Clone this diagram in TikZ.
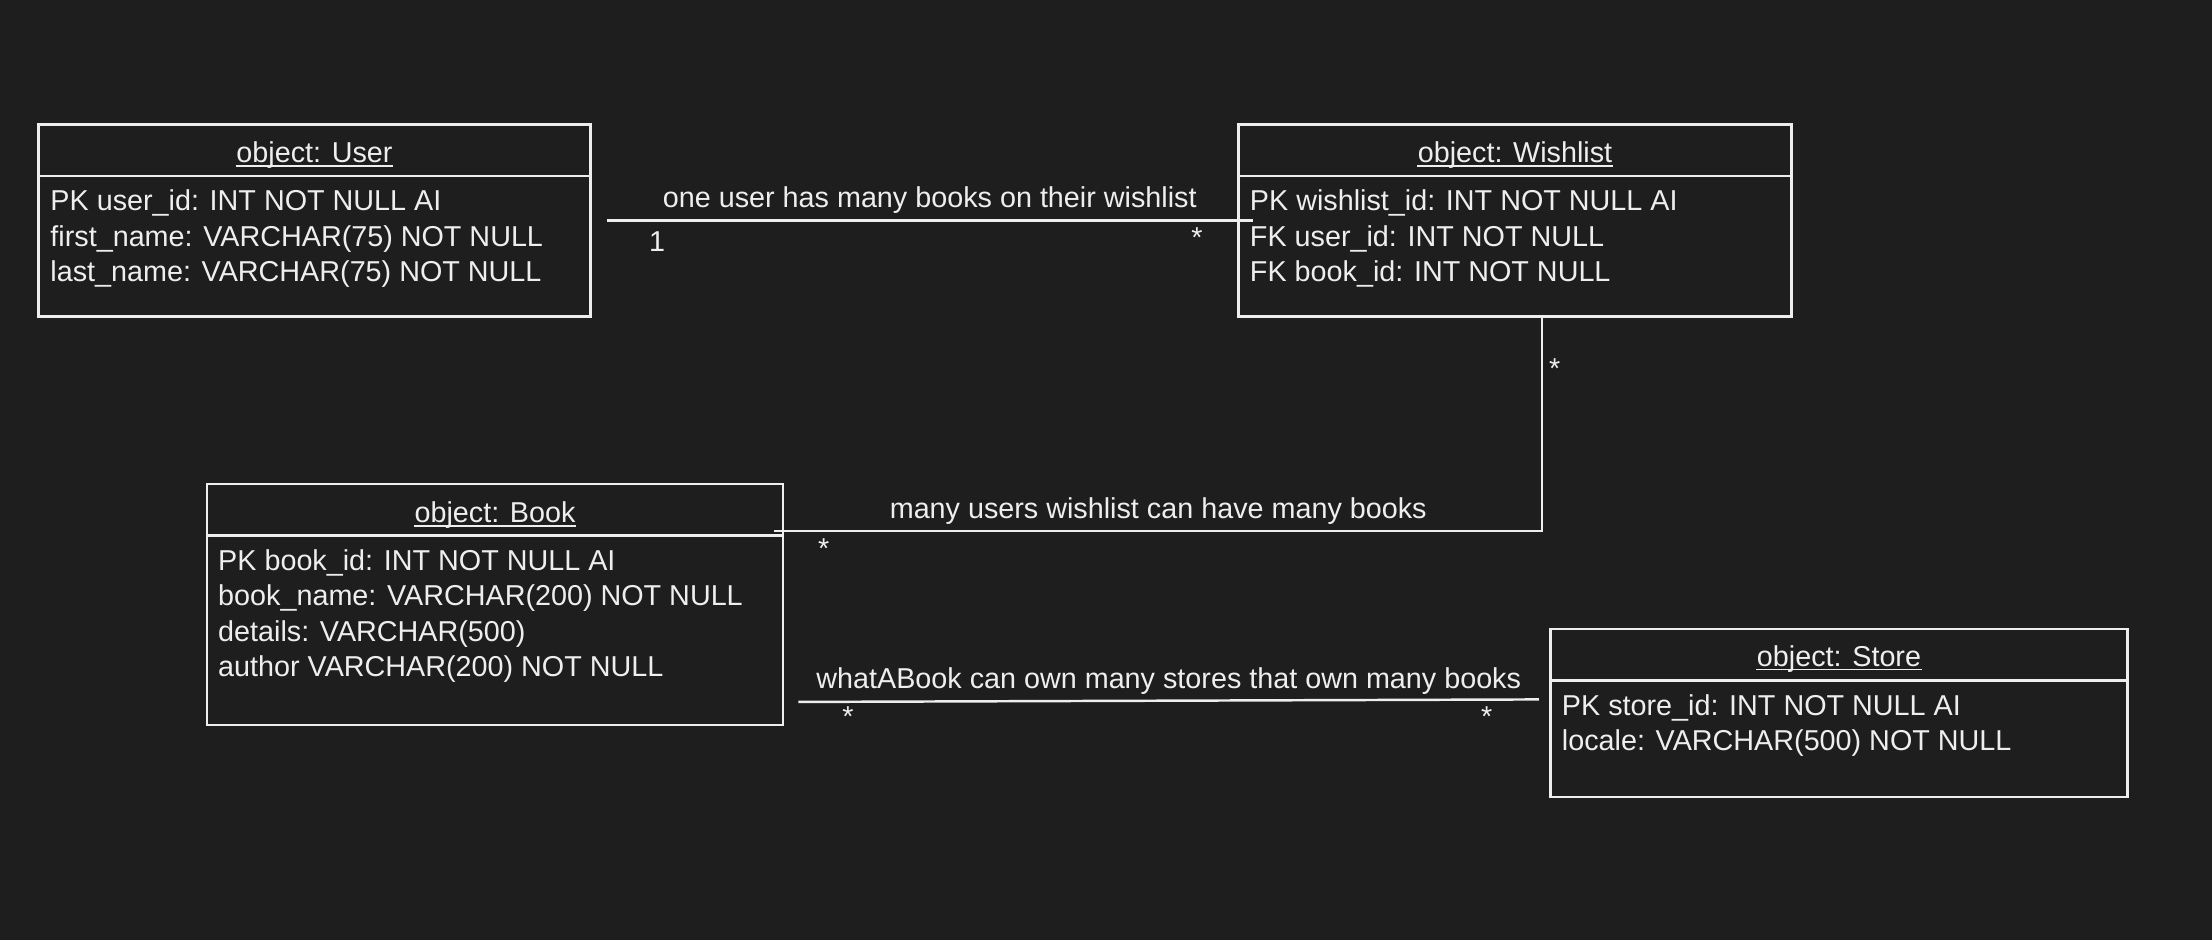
\documentclass[tikz,border=0pt]{standalone}
\usepackage{fontspec}
\setmainfont{Liberation Sans}

\definecolor{bgdark}{RGB}{30,30,30}
\definecolor{inkwhite}{RGB}{238,238,238}

\tikzset{
  objbox/.style={draw=inkwhite, line width=0.7pt, inner sep=0pt},
  objtitle/.style={text=inkwhite, anchor=base, inner sep=0pt},
  objattr/.style={text=inkwhite, anchor=base west, inner sep=0pt},
  divider/.style={draw=inkwhite, line width=0.7pt},
  uline/.style={draw=inkwhite, line width=0.55pt},
  link/.style={draw=inkwhite, line width=0.7pt},
  linklabel/.style={text=inkwhite, anchor=base, inner sep=0pt},
}

\begin{document}
\begin{tikzpicture}[font=\fontsize{8.18}{10}\selectfont]
	\fill[bgdark] (0,0) rectangle (22.12,9.40);
	\useasboundingbox (0,0) rectangle (22.12,9.40);

	% the four objects
	\node[objbox, minimum width=5.52cm, minimum height=1.92cm] (user) at (3.145,7.195) {};
	\node[objbox, minimum width=5.53cm, minimum height=1.92cm] (wishlist) at (15.15,7.195) {};
	\node[objbox, minimum width=5.765cm, minimum height=2.41cm] (book) at (4.95,3.355) {};
	\node[objbox, minimum width=5.77cm, minimum height=1.675cm] (store) at (18.39,2.27) {};

	% headers
	\node[objtitle] (user-t) at ([yshift=-0.395cm]user.north) {object: User};
	\node[objtitle] (wishlist-t) at ([yshift=-0.395cm]wishlist.north) {object: Wishlist};
	\node[objtitle] (book-t) at ([yshift=-0.395cm]book.north) {object: Book};
	\node[objtitle] (store-t) at ([yshift=-0.38cm]store.north) {object: Store};
	\foreach \o in {user,wishlist,book,store}{
		\draw[uline] ([yshift=-0.035cm]\o-t.base west) -- ([yshift=-0.035cm]\o-t.base east);
		\draw[divider] ([yshift=-0.525cm]\o.north west) -- ([yshift=-0.525cm]\o.north east);
	}

	% fields
	\foreach \t [count=\i] in {PK user\_id: INT NOT NULL AI, first\_name: VARCHAR(75) NOT NULL, last\_name: VARCHAR(75) NOT NULL}
		\node[objattr] (user-\i) at ([xshift=0.125cm, yshift=-0.52cm-0.355cm*\i]user.north west) {\t};
	\foreach \t [count=\i] in {PK wishlist\_id: INT NOT NULL AI, FK user\_id: INT NOT NULL, FK book\_id: INT NOT NULL}
		\node[objattr] (wishlist-\i) at ([xshift=0.12cm, yshift=-0.52cm-0.355cm*\i]wishlist.north west) {\t};
	\foreach \t [count=\i] in {PK book\_id: INT NOT NULL AI, book\_name: VARCHAR(200) NOT NULL, details: VARCHAR(500), author VARCHAR(200) NOT NULL}
		\node[objattr] (book-\i) at ([xshift=0.12cm, yshift=-0.52cm-0.355cm*\i]book.north west) {\t};
	\foreach \t [count=\i] in {PK store\_id: INT NOT NULL AI, locale: VARCHAR(500) NOT NULL}
		\node[objattr] (store-\i) at ([xshift=0.12cm, yshift=-0.515cm-0.355cm*\i]store.north west) {\t};

	% relations
	\coordinate (user-out) at ([xshift=0.15cm]user.east);
	\coordinate (wishlist-in) at ([xshift=0.155cm]wishlist.west);
	\draw[link] (user-out) -- node[linklabel, yshift=0.135cm] (rel1) {one user has many books on their wishlist} (wishlist-in);
	\node[linklabel] (rel1-a) at (6.57,6.89) {1};
	\node[linklabel] (rel1-b) at (11.97,6.93) {*};

	\coordinate (wishlist-out) at ([xshift=0.27cm]wishlist.south);
	\coordinate (book-in) at ([xshift=-0.1cm, yshift=-0.48cm]book.north east);
	\draw[link] (wishlist-out) |- node[pos=0.75, linklabel, yshift=0.125cm] (rel2) {many users wishlist can have many books} (book-in);
	\node[linklabel] (rel2-a) at (15.547,5.617) {*};
	\node[linklabel] (rel2-b) at (8.236,3.814) {*};

	\coordinate (book-out) at ([xshift=0.14cm, yshift=0.243cm]book.south east);
	\coordinate (store-in) at ([xshift=-0.103cm, yshift=-0.714cm]store.north west);
	\draw[link] (book-out) -- node[linklabel, yshift=0.125cm] (rel3) {whatABook can own many stores that own many books} (store-in);
	\node[linklabel] (rel3-a) at (8.479,2.14) {*};
	\node[linklabel] (rel3-b) at (14.867,2.14) {*};
\end{tikzpicture}
\end{document}
